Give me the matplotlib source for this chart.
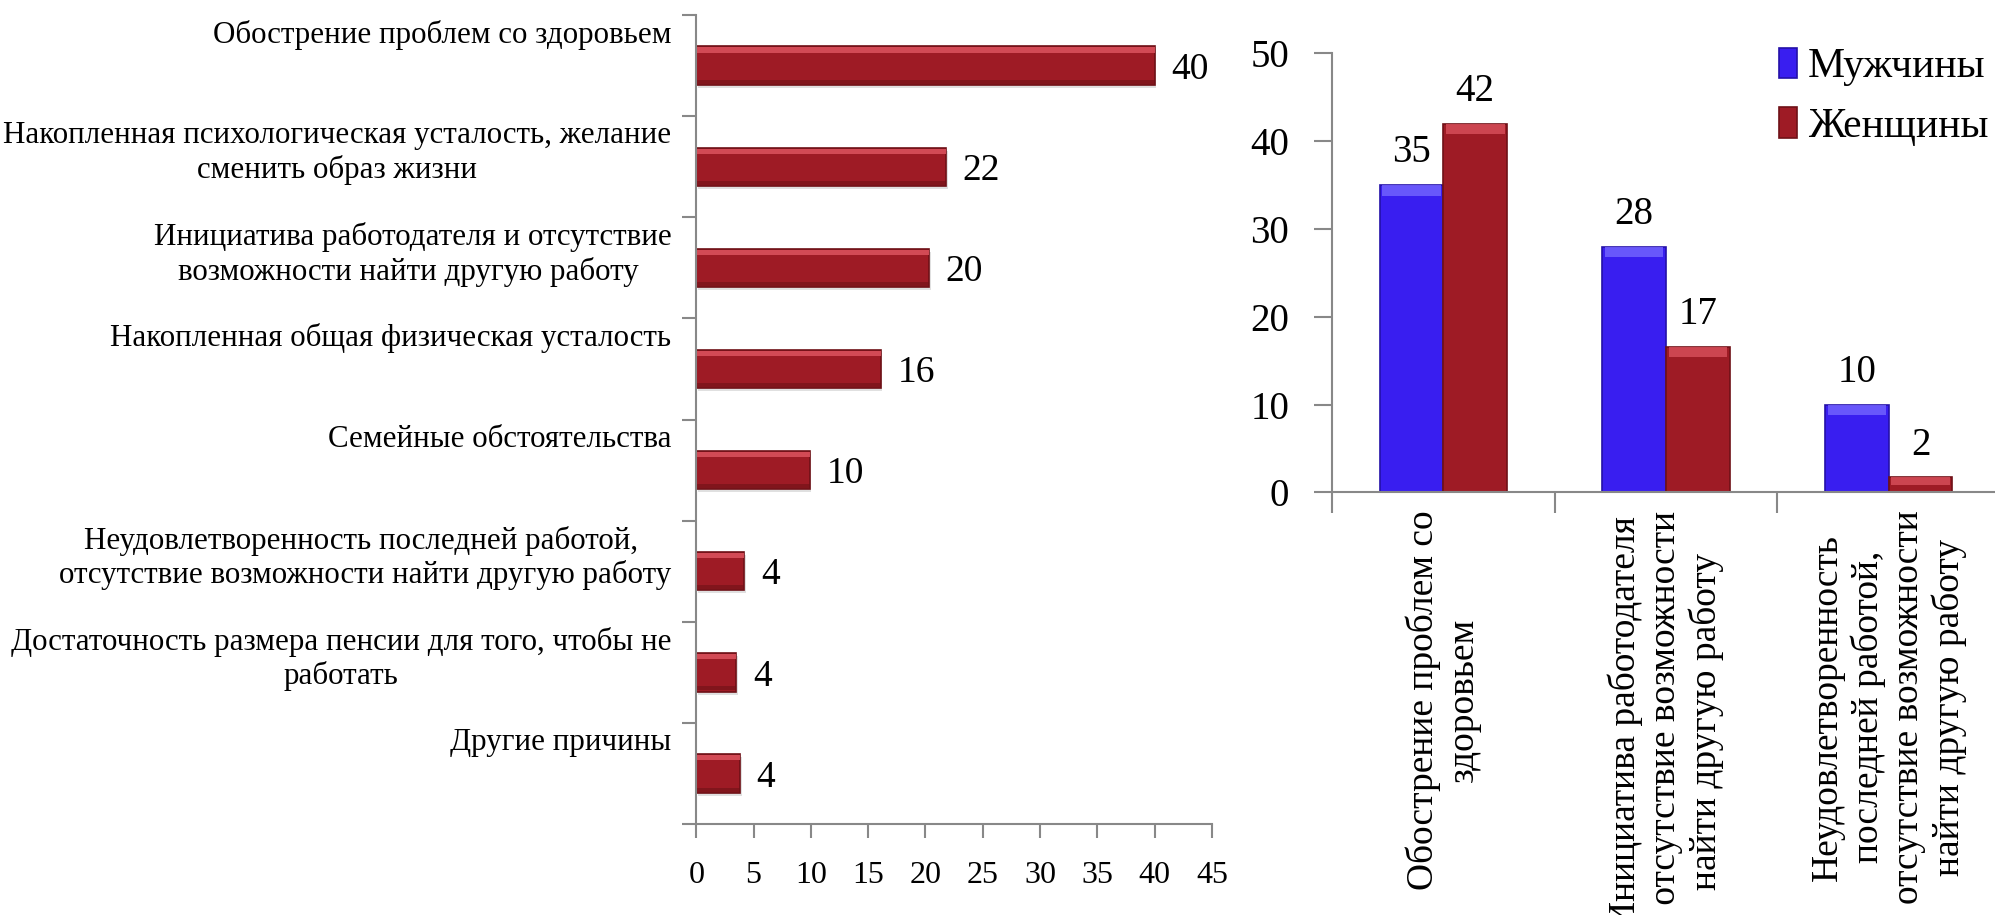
import numpy as np
import matplotlib.pyplot as plt
import matplotlib.transforms as mtransforms

plt.rcParams['font.family'] = ['Liberation Serif', 'DejaVu Serif']

# левый график: причины выхода на пенсию, %
prichiny = ['Обострение проблем со здоровьем',
            'Накопленная психологическая усталость, желание\nсменить образ жизни',
            'Инициатива работодателя и отсутствие\nвозможности найти другую работу ',
            'Накопленная общая физическая усталость',
            'Семейные обстоятельства',
            'Неудовлетворенность последней работой, \nотсутствие возможности найти другую работу',
            'Достаточность размера пенсии для того, чтобы не\nработать',
            'Другие причины']
dolya = [40, 21.8, 20.3, 16.1, 9.9, 4.2, 3.5, 3.8]
xticks_left = [0, 5, 10, 15, 20, 25, 30, 35, 40, 45]

# правый график: по полу, %
gruppy = ['Обострение проблем со\nздоровьем',
          'Инициатива работодателя\nи отсутствие возможности\nнайти другую работу',
          'Неудовлетворенность\nпоследней работой,\nотсутствие возможности\nнайти другую работу']
muzhchiny = [35, 28, 10]
zhenshchiny = [42, 16.6, 1.7]
yticks_right = [0, 10, 20, 30, 40, 50]

krasny = '#9E1B25'
krasny_svet = '#D8505B'
krasny_temn = '#6E1117'
siniy = '#391EF0'
siniy_svet = '#7566FF'
siniy_temn = '#2410A8'
seryi = '#888888'

fig = plt.figure(figsize=(19.95, 9.15), dpi=100)

# ---------- левый график
ax1 = fig.add_axes([0.349, 0.0995, 0.2585, 0.884])
pos = np.arange(len(prichiny))
h = 0.38
# тень
ax1.barh(pos + 0.03, dolya, height=h, left=0.15, color='#000000', alpha=0.12, linewidth=0)
ax1.barh(pos, dolya, height=h, color=krasny, edgecolor=krasny_temn, linewidth=1.2)
ax1.barh(pos - h / 2 + 0.035, dolya, height=0.05, color=krasny_svet, linewidth=0, alpha=0.9)
ax1.barh(pos + h / 2 - 0.03, dolya, height=0.04, color=krasny_temn, linewidth=0, alpha=0.6)

for p, v in zip(pos, dolya):
    ax1.annotate(f'{v:.0f}', xy=(v, p), xytext=(12, 0), textcoords='offset points',
                 ha='left', va='center_baseline', fontsize=27)

trans = mtransforms.blended_transform_factory(ax1.transAxes, ax1.transData)
for p, t in zip(pos, prichiny):
    ax1.text(-0.048, p - 0.5 + 0.05, t, transform=trans, ha='right', va='top',
             multialignment='center', fontsize=22.3)

ax1.set_ylim(len(prichiny) - 0.5, -0.5)
ax1.set_xlim(0, 45)
ax1.set_yticks(np.arange(-0.5, len(prichiny), 1))
ax1.set_yticklabels([])
ax1.set_xticks(xticks_left)
ax1.set_xticklabels([str(k) for k in xticks_left], fontsize=23)
ax1.tick_params(axis='both', direction='out', length=10, width=1.5, color=seryi)
ax1.tick_params(axis='x', pad=17)
for s in ['top', 'right']:
    ax1.spines[s].set_visible(False)
for s in ['left', 'bottom']:
    ax1.spines[s].set_color(seryi)
    ax1.spines[s].set_linewidth(1.5)

# ---------- правый график
ax2 = fig.add_axes([0.6677, 0.4619, 0.3348, 0.4797])
x = np.arange(len(gruppy))
w = 0.286
ax2.bar(x - w / 2, muzhchiny, width=w, color=siniy, edgecolor=siniy_temn, linewidth=1.2,
        label='Мужчины')
ax2.bar(x + w / 2, zhenshchiny, width=w, color=krasny, edgecolor=krasny_temn, linewidth=1.2,
        label='Женщины')
# блики сверху
m_top = [min(1.2, v * 0.5) for v in muzhchiny]
z_top = [min(1.2, v * 0.5) for v in zhenshchiny]
ax2.bar(x - w / 2, m_top, bottom=np.array(muzhchiny) - np.array(m_top), width=w * 0.92,
        color=siniy_svet, linewidth=0, alpha=0.8)
ax2.bar(x + w / 2, z_top, bottom=np.array(zhenshchiny) - np.array(z_top), width=w * 0.92,
        color=krasny_svet, linewidth=0, alpha=0.8)

for xi, v in zip(x - w / 2, muzhchiny):
    ax2.annotate(f'{v:.0f}', xy=(xi, v), xytext=(0, 10), textcoords='offset points',
                 ha='center', va='bottom', fontsize=28)
for xi, v in zip(x + w / 2, zhenshchiny):
    ax2.annotate(f'{v:.0f}', xy=(xi, v), xytext=(0, 10), textcoords='offset points',
                 ha='center', va='bottom', fontsize=28)

ax2.set_xlim(-0.5, len(gruppy) - 0.5)
ax2.set_ylim(0, 50)
ax2.set_yticks(yticks_right)
ax2.set_yticklabels([str(k) for k in yticks_right], fontsize=28)
ax2.set_xticks(np.arange(-0.5, len(gruppy), 1))
ax2.set_xticklabels([])
# подписи групп, повернутые
for xi, t in zip(x, gruppy):
    ax2.annotate(t, xy=(xi, 0), xycoords=('data', 'axes fraction'), xytext=(0, -13),
                 textcoords='offset points', rotation=90, ha='center', va='top',
                 multialignment='center', fontsize=27, linespacing=1.2)
ax2.tick_params(axis='x', direction='out', length=15, width=1.5, color=seryi)
ax2.tick_params(axis='y', direction='out', length=13, width=1.5, color=seryi, pad=18)
for s in ['top', 'right']:
    ax2.spines[s].set_visible(False)
for s in ['left', 'bottom']:
    ax2.spines[s].set_color(seryi)
    ax2.spines[s].set_linewidth(1.5)

handles, labels = ax2.get_legend_handles_labels()
fig.legend(handles[:2], labels[:2], loc='upper left', bbox_to_anchor=(0.8915, 0.948),
           frameon=False, fontsize=30, handlelength=0.45, handleheight=0.75,
           handletextpad=0.25, labelspacing=0.5, borderpad=0, borderaxespad=0)

plt.savefig('out.png', dpi=100)
